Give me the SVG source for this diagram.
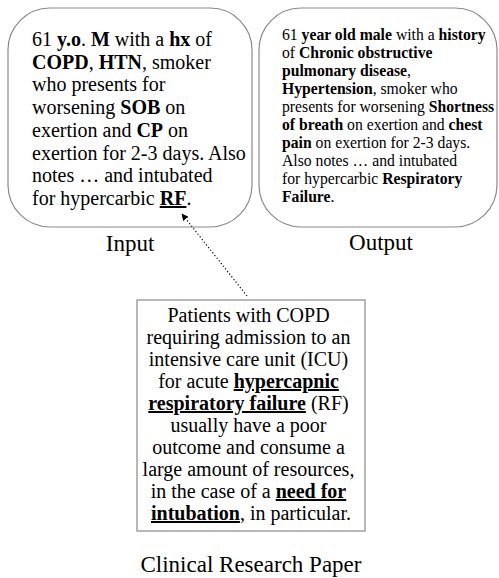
<svg xmlns="http://www.w3.org/2000/svg" width="499" height="578" viewBox="0 0 499 578">
<style>
.box{fill:#fff;stroke:#8a8a8a;stroke-width:1.2}
.t{font-family:"Liberation Serif","Times New Roman",serif;fill:#000}
.b{font-weight:bold}
.u{font-weight:bold;text-decoration:underline}
.lbl{font-family:"Liberation Serif","Times New Roman",serif;font-size:23px;fill:#000;text-anchor:middle}
</style>
<defs>
<marker id="ah" viewBox="0 0 10 10" refX="9" refY="5" markerWidth="7" markerHeight="7" orient="auto" markerUnits="userSpaceOnUse">
<path d="M0,0 L10,5 L0,10 z" fill="#000"/>
</marker>
</defs>
<rect width="499" height="578" fill="#fff"/>
<g id="input">
<rect class="box" x="8" y="8" width="244" height="219" rx="42" ry="42"/>
<text class="t" font-size="20" x="32">
<tspan x="32" y="46">61 <tspan class="b">y.o</tspan>. <tspan class="b">M</tspan> with a <tspan class="b">hx</tspan> of</tspan>
<tspan x="32" y="68.7"><tspan class="b">COPD</tspan>, <tspan class="b">HTN</tspan>, smoker</tspan>
<tspan x="32" y="91.4">who presents for</tspan>
<tspan x="32" y="114.1">worsening <tspan class="b">SOB</tspan> on</tspan>
<tspan x="32" y="136.8">exertion and <tspan class="b">CP</tspan> on</tspan>
<tspan x="32" y="159.5">exertion for 2-3 days. Also</tspan>
<tspan x="32" y="182.2">notes … and intubated</tspan>
<tspan x="32" y="205">for hypercarbic <tspan class="u">RF</tspan>.</tspan>
</text>
<text class="lbl" x="130" y="251">Input</text>
</g>
<g id="output">
<rect class="box" x="259" y="8" width="238" height="219" rx="42" ry="42"/>
<text class="t" font-size="15.7">
<tspan x="282" y="39.5">61 <tspan class="b">year old male</tspan> with a <tspan class="b">history</tspan></tspan>
<tspan x="282" y="57.6">of <tspan class="b">Chronic obstructive</tspan></tspan>
<tspan x="282" y="75.7"><tspan class="b">pulmonary disease</tspan>,</tspan>
<tspan x="282" y="93.8"><tspan class="b">Hypertension</tspan>, smoker who</tspan>
<tspan x="282" y="111.9">presents for worsening <tspan class="b">Shortness</tspan></tspan>
<tspan x="282" y="130"><tspan class="b">of breath</tspan> on exertion and <tspan class="b">chest</tspan></tspan>
<tspan x="282" y="148.1"><tspan class="b">pain</tspan> on exertion for 2-3 days.</tspan>
<tspan x="282" y="166.2">Also notes … and intubated</tspan>
<tspan x="282" y="184.3">for hypercarbic <tspan class="b">Respiratory</tspan></tspan>
<tspan x="282" y="202.4"><tspan class="b">Failure</tspan>.</tspan>
</text>
<text class="lbl" x="381" y="250">Output</text>
</g>
<g id="paper">
<rect x="137" y="300" width="228" height="231" fill="#fff" stroke="#a0a0a0" stroke-width="1.5"/>
<text class="t" font-size="20" text-anchor="middle">
<tspan x="251" y="322">Patients with COPD</tspan>
<tspan x="251" y="344">requiring admission to an</tspan>
<tspan x="251" y="366">intensive care unit (ICU)</tspan>
<tspan x="251" y="388">for acute <tspan class="u">hypercapnic</tspan></tspan>
<tspan x="251" y="410"><tspan class="u">respiratory failure</tspan> (RF)</tspan>
<tspan x="251" y="432">usually have a poor</tspan>
<tspan x="251" y="454">outcome and consume a</tspan>
<tspan x="251" y="476">large amount of resources,</tspan>
<tspan x="251" y="498">in the case of a <tspan class="u">need for</tspan></tspan>
<tspan x="251" y="520"><tspan class="u">intubation</tspan>, in particular.</tspan>
</text>
<text class="lbl" x="251" y="572">Clinical Research Paper</text>
</g>
<g id="connectors">
<line x1="247" y1="296" x2="182" y2="214" stroke="#000" stroke-width="1.2" stroke-dasharray="1.2 2.2" marker-end="url(#ah)"/>
</g>
</svg>
